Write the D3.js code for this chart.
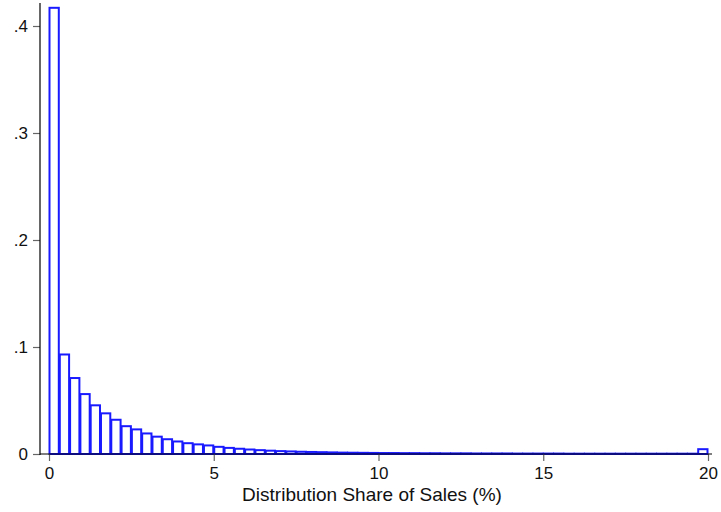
<!DOCTYPE html>
<html>
<head>
<meta charset="utf-8">
<script src="https://cdn.jsdelivr.net/npm/d3@7"></script>
<style>
  body { margin: 0; background: #fff; }
  svg { display: block; font-family: Arial, "Liberation Sans", sans-serif; }
</style>
</head>
<body>
<div id="chart"></div>
<script>
// histogram: 64 bins over 0..20, fraction per bin
var binWidth = 20 / 64;
var fractions = [
  0.417, 0.093, 0.071, 0.056, 0.0455, 0.038, 0.032, 0.026,
  0.023, 0.0192, 0.0162, 0.0138, 0.0117, 0.0101, 0.009, 0.008,
  0.0067, 0.0057, 0.0049, 0.0042, 0.0036, 0.0031, 0.0027, 0.0024,
  0.0021, 0.0019, 0.0017, 0.0015, 0.0013, 0.0012, 0.0011, 0.001,
  0.0009, 0.0009, 0.0008, 0.0008, 0.0007, 0.0007, 0.0006, 0.0006,
  0.0006, 0.0005, 0.0005, 0.0005, 0.0005, 0.0004, 0.0004, 0.0004,
  0.0004, 0.0004, 0.0003, 0.0003, 0.0003, 0.0003, 0.0003, 0.0003,
  0.0003, 0.0003, 0.0003, 0.0003, 0.0003, 0.0003, 0.0003, 0.0045
];
var xTicks = [0, 5, 10, 15, 20];
var yTicks = [0, 0.1, 0.2, 0.3, 0.4];
var yTickLabels = ["0", ".1", ".2", ".3", ".4"];
var xTitle = "Distribution Share of Sales (%)";

var W = 721, H = 512;
var svg = d3.select("#chart").append("svg")
  .attr("width", W)
  .attr("height", H);

var x = d3.scaleLinear().domain([0, 20]).range([49, 708]);
var y = d3.scaleLinear().domain([0, 0.4]).range([454, 26]);

var bars = fractions.map(function(v, i) { return {x0: i * binWidth, x1: (i + 1) * binWidth, v: v}; });

svg.append("g").selectAll("rect").data(bars)
  .enter().append("rect")
  .attr("x", function(d) { return x(d.x0) + 0.5; })
  .attr("width", function(d) { return x(d.x1) - x(d.x0) - 1; })
  .attr("y", function(d) { return y(d.v); })
  .attr("height", function(d) { return y(0) - y(d.v); })
  .attr("fill", "#fff")
  .attr("stroke", "#1a1aff")
  .attr("stroke-width", 2);

// y axis
var yAxis = svg.append("g").attr("transform", "translate(40,0)")
  .call(d3.axisLeft(y).tickValues(yTicks).tickSize(7).tickPadding(5)
    .tickFormat(function(d, i) { return yTickLabels[i]; }));
yAxis.select(".domain").remove();
yAxis.append("line").attr("x1", 0).attr("x2", 0).attr("y1", 3).attr("y2", 455)
  .attr("stroke", "#000").attr("stroke-width", 1.2);

// x axis
var xAxis = svg.append("g").attr("transform", "translate(0,454)")
  .call(d3.axisBottom(x).tickValues(xTicks).tickSize(7).tickPadding(6));
xAxis.select(".domain").remove();
xAxis.append("line").attr("x1", 40).attr("x2", 712).attr("y1", 0).attr("y2", 0)
  .attr("stroke", "#000").attr("stroke-width", 1.2);

svg.selectAll(".tick line").attr("stroke", "#666").attr("stroke-width", 1.2);
svg.selectAll(".tick text").attr("font-size", 17).attr("fill", "#111")
  .attr("font-family", "Arial, 'Liberation Sans', sans-serif");

svg.append("text")
  .attr("x", 372).attr("y", 501)
  .attr("text-anchor", "middle")
  .attr("font-size", 19)
  .attr("fill", "#111")
  .text(xTitle);
</script>
</body>
</html>
